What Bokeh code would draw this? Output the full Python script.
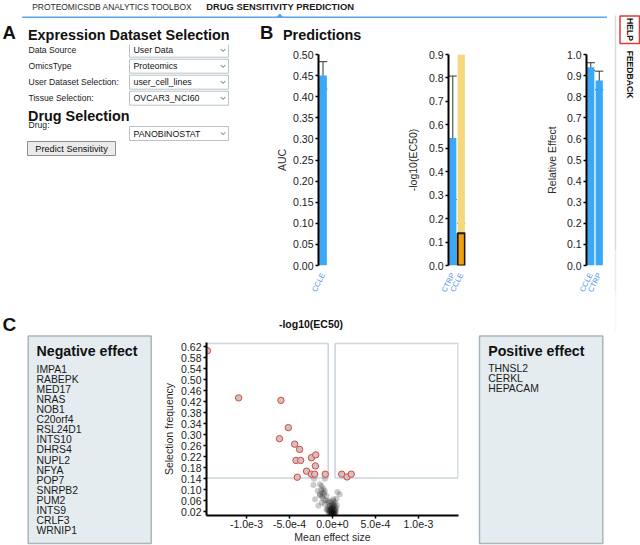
from math import pi
from bokeh.plotting import figure
from bokeh.layouts import row, column
from bokeh.models import (Range1d, FactorRange, ColumnDataSource, Whisker, TeeHead,
                          FixedTicker, NumeralTickFormatter, CustomJSTickFormatter)
from bokeh.core.properties import value
from bokeh.embed import file_html
from bokeh.resources import INLINE

# ---------------- data ----------------
header_items = ["PROTEOMICSDB ANALYTICS TOOLBOX", "DRUG SENSITIVITY PREDICTION"]
form_labels = ["Data Source", "OmicsType", "User Dataset Selection:", "Tissue Selection:"]
form_values = ["User Data", "Proteomics", "user_cell_lines", "OVCAR3_NCI60"]
drug_label = "Drug:"
drug_value = "PANOBINOSTAT"
button_label = "Predict Sensitivity"

auc_sources = ["CCLE"]
auc_values = [0.450]
auc_lower = [0.418]
auc_upper = [0.483]
auc_ticks = [0.00, 0.05, 0.10, 0.15, 0.20, 0.25, 0.30, 0.35, 0.40, 0.45, 0.50]

ec50_sources = ["CTRP", "CCLE"]
ec50_values = [0.544, 0.138]
ec50_lower = [0.281, 0.083]
ec50_upper = [0.808, 0.180]
ec50_highlight = "CCLE"
ec50_ticks = [0.0, 0.1, 0.2, 0.3, 0.4, 0.5, 0.6, 0.7, 0.8, 0.9]

re_sources = ["CCLE", "CTRP"]
re_values = [0.940, 0.877]
re_lower = [0.924, 0.833]
re_upper = [0.961, 0.921]
re_ticks = [0.0, 0.1, 0.2, 0.3, 0.4, 0.5, 0.6, 0.7, 0.8, 0.9, 1.0]

neg_genes = ["IMPA1", "RABEPK", "MED17", "NRAS", "NOB1", "C20orf4", "RSL24D1", "INTS10",
             "DHRS4", "NUPL2", "NFYA", "POP7", "SNRPB2", "PUM2", "INTS9", "CRLF3", "WRNIP1"]
pos_genes = ["THNSL2", "CERKL", "HEPACAM"]

# selected genes (red circles)
sel_effect = [-1.455e-3, -1.092e-3, -6.00e-4, -5.14e-4, -6.17e-4, -4.40e-4, -3.83e-4,
              -4.25e-4, -3.71e-4, -2.45e-4, -1.95e-4, -1.99e-4, -3.02e-4, -2.45e-4,
              -2.07e-4, -4.10e-4, -0.84e-4, 1.07e-4, 1.69e-4, 2.18e-4]
sel_freq = [0.605, 0.434, 0.425, 0.326, 0.286, 0.266, 0.247, 0.207, 0.207, 0.217, 0.227,
            0.187, 0.168, 0.157, 0.157, 0.146, 0.157, 0.157, 0.147, 0.157]
# non-selected genes (grey dots)
other_effect = [-2.15e-4, -0.89e-4, -2.22e-4, -1.46e-4, -1.26e-4, -1.07e-4, -1.72e-4, -0.89e-4,
                -2.03e-4, -1.46e-4, -0.69e-4, -1.07e-4, 0.57e-4, 0.84e-4, 0.46e-4, -0.49e-4,
                0.08e-4, -1.64e-4, -0.89e-4, -0.31e-4, -0.69e-4, -0.11e-4, -1.26e-4, -1.46e-4,
                -1.30e-4, -1.15e-4, -0.95e-4, -1.20e-4, -0.80e-4, -0.55e-4, 0.30e-4, 0.50e-4,
                0.25e-4, -0.50e-4, -0.40e-4, -0.30e-4, -0.20e-4, -0.15e-4, -0.10e-4, -0.05e-4,
                0.0, 0.0, 0.05e-4, 0.10e-4, 0.15e-4, 0.20e-4, 0.25e-4, 0.30e-4, 0.35e-4,
                0.40e-4, -0.35e-4, -0.25e-4, -0.45e-4, 0.10e-4, -0.10e-4, 0.20e-4, -0.20e-4,
                0.05e-4, -0.05e-4, 0.15e-4, -0.60e-4, 0.45e-4, 0.30e-4, -0.30e-4, 0.0,
                0.12e-4, -0.25e-4]
other_freq = [0.140, 0.140, 0.118, 0.120, 0.114, 0.104, 0.096, 0.096, 0.066, 0.084, 0.078,
              0.068, 0.092, 0.084, 0.068, 0.060, 0.066, 0.042, 0.048, 0.042, 0.030, 0.030,
              0.054, 0.080, 0.100, 0.090, 0.086, 0.076, 0.062, 0.054, 0.054, 0.044, 0.040,
              0.036, 0.028, 0.022, 0.034, 0.018, 0.026, 0.014, 0.022, 0.032, 0.012, 0.018,
              0.028, 0.014, 0.022, 0.030, 0.016, 0.024, 0.012, 0.016, 0.020, 0.010, 0.010,
              0.010, 0.012, 0.038, 0.044, 0.046, 0.026, 0.034, 0.012, 0.040, 0.050, 0.060,
              0.058]
freq_threshold = 0.143
effect_neg_cut = -5e-5
effect_pos_cut = 3e-5
sc_y_ticks = [0.02, 0.06, 0.10, 0.14, 0.18, 0.22, 0.26, 0.30, 0.34, 0.38, 0.42, 0.46,
              0.50, 0.54, 0.58, 0.62]
sc_x_ticks = [-1.0e-3, -5.0e-4, 0.0, 5.0e-4, 1.0e-3]

# ---------------- style ----------------
S = 1.0
FONT = "Liberation Sans"
BLUE = "#3AA8F6"
ORANGE = "#F29E0C"
YELLOW = "#F6D77C"
CAT_BLUE = "#4D90E8"
LINE_BLUE = "#5BA4EE"
BOX_FILL = "#E4ECEF"
BOX_LINE = "#A7B6BC"
DARK = "#1A1A1A"


def P(v):
    return int(round(v * S))


def fs(v):
    return f"{v * S:.2f}px"


def deco(x0, x1, y0, y1):
    p = figure(width=P(x1) - P(x0), height=P(y1) - P(y0),
               x_range=Range1d(P(x0) / S, P(x1) / S), y_range=Range1d(P(y1) / S, P(y0) / S),
               x_axis_type=None, y_axis_type=None, output_backend="svg",
               toolbar_location=None, min_border=0, outline_line_color=None)
    p.frame_align = False
    p.title.visible = False
    p.grid.visible = False
    return p


def T(p, xs, ys, texts, size, bold=False, color=DARK, align="left", angle=0.0):
    p.text(x=xs, y=ys, text=texts, text_font=value(FONT), text_font_size=value(fs(size)),
           text_font_style="bold" if bold else "normal", text_color=color,
           text_align=align, text_baseline="middle", angle=angle)


def style_axis(ax, label_standoff):
    ax.axis_line_width = 2 * S
    ax.axis_line_color = "black"
    ax.major_tick_line_color = "black"
    ax.major_tick_line_width = 1.5 * S
    ax.major_tick_out = 3
    ax.major_tick_in = 0
    ax.minor_tick_line_color = None
    ax.major_label_text_font = FONT
    ax.major_label_text_font_size = fs(10.5)
    ax.major_label_text_color = DARK
    ax.major_label_standoff = 2
    ax.axis_label_text_font = FONT
    ax.axis_label_text_font_size = fs(10.5)
    ax.axis_label_text_font_style = "normal"
    ax.axis_label_text_color = "#2A2A2A"
    ax.axis_label_standoff = label_standoff


def data_fig(fig_box, frame_box, x_range, y_range):
    fx0, fx1, fy0, fy1 = fig_box
    ax0, ax1, ay0, ay1 = frame_box
    p = figure(width=P(fx1) - P(fx0), height=P(fy1) - P(fy0), x_range=x_range, y_range=y_range,
               min_border_left=P(ax0) - P(fx0), min_border_right=P(fx1) - P(ax1),
               min_border_top=P(ay0) - P(fy0), min_border_bottom=P(fy1) - P(ay1),
               output_backend="svg", toolbar_location=None, outline_line_color=None)
    p.frame_align = False
    p.title.visible = False
    p.grid.visible = False
    return p


def bar_fig(fig_box, frame_box, factors, y_end, ticks, fmt, ylabel, standoff,
            values, lower, upper, colors, cap, highlight=None):
    p = data_fig(fig_box, frame_box, FactorRange(factors=factors), Range1d(0, y_end))
    yax = p.yaxis[0]
    yax.ticker = FixedTicker(ticks=ticks, minor_ticks=[])
    yax.formatter = NumeralTickFormatter(format=fmt)
    yax.axis_label = ylabel
    style_axis(yax, standoff)
    xax = p.xaxis[0]
    xax.axis_line_color = None
    xax.major_tick_line_color = None
    xax.minor_tick_line_color = None
    xax.major_label_orientation = 1.1
    xax.major_label_text_font = FONT
    xax.major_label_text_font_size = fs(7.5)
    xax.major_label_text_color = CAT_BLUE
    xax.major_label_standoff = 2
    if highlight is not None:
        p.vbar(x=[highlight], top=[y_end], width=0.85, color=YELLOW, line_color=None)
    edge = ["#1A1A1A" if f == highlight else None for f in factors]
    src = ColumnDataSource(dict(src=factors, val=values, lo=lower, hi=upper,
                                col=colors, edge=edge))
    p.vbar(x="src", top="val", width=0.85, fill_color="col", line_color="edge",
           line_width=2 * S, source=src)
    p.add_layout(Whisker(source=src, base="src", upper="hi", lower="lo",
                         line_color="#333333", line_width=1,
                         upper_head=TeeHead(size=cap * S, line_color="#333333", line_width=1),
                         lower_head=TeeHead(size=cap * S, line_color="#333333", line_width=1)))
    return p


# ---------------- header ----------------
hdr = deco(0, 607, 0, 20)
T(hdr, [31.7], [6.3], [header_items[0]], 8.45, color="#2A2A2A")
T(hdr, [205.7], [6.3], [header_items[1]], 9.4, bold=True)
hdr.line([21.7, 607], [16.8, 16.8], color=LINE_BLUE, line_width=1.6 * S)
hdr.patch([276.3, 279.3, 282.3], [16.8, 13.4, 16.8], color=LINE_BLUE)

# ---------------- title strip ----------------
tit = deco(0, 607, 20, 44)
T(tit, [2, 259.5], [31.8, 31.8], ["A", "B"], 18.5, bold=True, color="#111111")
T(tit, [27.5, 282.5], [34.2, 34.2], ["Expression Dataset Selection", "Predictions"], 14.4,
  bold=True, color="#111111")

# ---------------- panel A body ----------------
pa = deco(0, 258, 44, 300)
n = len(form_labels)
box_tops = [42.7 + 16 * i for i in range(n)] + [126.0]
centers = [t + 7 for t in box_tops]
pa.quad(left=[129] * (n + 1), right=[228] * (n + 1), top=box_tops,
        bottom=[t + 14 for t in box_tops], fill_color="white", line_color="#B9C3C9",
        line_width=1)
T(pa, [28] * n, [c - 0.3 for c in centers[:n]], form_labels, 8.6)
T(pa, [28], [124.5], [drug_label], 8.6)
T(pa, [133] * (n + 1), centers, form_values + [drug_value], 8.8, color="#111111")
pa.multi_line(xs=[[220.3, 222.6, 224.9]] * (n + 1),
              ys=[[c - 1.2, c + 1.2, c - 1.2] for c in centers],
              line_color="#8FA6B5", line_width=1.2)
pa.quad(left=[27], right=[115], top=[141], bottom=[155], fill_color="#EBEBEB",
        line_color="#8E8E8E", line_width=1)
T(pa, [71], [148.2], [button_label], 9.2, align="center", color="#111111")
T(pa, [27.5], [115.8], ["Drug Selection"], 14.4, bold=True, color="#111111")

# ---------------- bar charts ----------------
auc = bar_fig((258, 380, 44, 300), (317.7, 326.7, 54, 265), auc_sources, 0.5, auc_ticks,
              "0.00", "AUC", 2, auc_values, auc_lower, auc_upper, [BLUE], 9)
ec50_colors = [ORANGE if s_ == ec50_highlight else BLUE for s_ in ec50_sources]
ec50 = bar_fig((380, 520, 44, 300), (448, 465, 54, 265), ec50_sources, 0.9, ec50_ticks,
               "0.0", "-log10(EC50)", 7, ec50_values, ec50_lower, ec50_upper, ec50_colors, 8,
               highlight=ec50_highlight)
re = bar_fig((520, 607, 44, 300), (586, 603, 54, 265), re_sources, 1.0, re_ticks,
             "0.0", "Relative Effect", 6, re_values, re_lower, re_upper, [BLUE, BLUE], 8.5)

# ---------------- C strip ----------------
cst = deco(0, 607, 300, 333)
T(cst, [2], [323.5], ["C"], 19, bold=True, color="#111111")
T(cst, [310.5], [323.2], ["-log10(EC50)"], 10.5, bold=True, align="center", color="#111111")

# ---------------- negative / positive boxes ----------------
neg = deco(0, 160, 333, 545)
neg.quad(left=[27.7], right=[150.7], top=[335.5], bottom=[543], fill_color=BOX_FILL,
         line_color=BOX_LINE, line_width=1.5 * S)
T(neg, [36], [350], ["Negative effect"], 14.2, bold=True, color="#111111")
T(neg, [36] * len(neg_genes), [369 + 10.06 * i for i in range(len(neg_genes))], neg_genes,
  10.4)

pos = deco(470, 607, 333, 545)
pos.quad(left=[479], right=[602.3], top=[335.5], bottom=[543], fill_color=BOX_FILL,
         line_color=BOX_LINE, line_width=1.5 * S)
T(pos, [487.7], [350], ["Positive effect"], 14.2, bold=True, color="#111111")
T(pos, [487.7] * len(pos_genes), [368.3 + 10 * i for i in range(len(pos_genes))], pos_genes,
  10.4)

# ---------------- volcano scatter ----------------
xr = Range1d(-1.466e-3, 1.466e-3)
yr = Range1d(0.007, 0.635)
sc = data_fig((160, 470, 333, 545), (203.5, 457.7, 341.7, 516.5), xr, yr)
sc.quad(left=[xr.start, effect_pos_cut], right=[effect_neg_cut, 1.46e-3],
        bottom=[freq_threshold] * 2, top=[0.632] * 2, fill_color=None,
        line_color="#CCD6DB", line_width=1.6 * S)
sc.scatter(other_effect, other_freq, size=6 * S, fill_color="black", fill_alpha=0.2,
           line_color=None)
sc.scatter(sel_effect, sel_freq, size=6.4 * S, fill_color="#C6C6C6", line_color="#E8403A",
           line_width=1)
sxa = sc.xaxis[0]
sxa.ticker = FixedTicker(ticks=sc_x_ticks, minor_ticks=[])
sxa.formatter = CustomJSTickFormatter(code="return tick.toExponential(1);")
sxa.axis_label = "Mean effect size"
style_axis(sxa, 0)
sxa.major_label_standoff = 1
sya = sc.yaxis[0]
sya.ticker = FixedTicker(ticks=sc_y_ticks, minor_ticks=[])
sya.formatter = NumeralTickFormatter(format="0.00")
sya.axis_label = "Selection frequency"
style_axis(sya, 3)

# ---------------- sidebar ----------------
side = deco(607, 640, 0, 545)
side.segment(x0=[615] * 3, y0=[15, 250, 290], x1=[615] * 3, y1=[250, 290, 330],
             line_color="#DADADA", line_alpha=[1.0, 0.6, 0.25], line_width=1.5 * S)
side.quad(left=[619.5], right=[639], top=[15.5], bottom=[43], fill_color=None,
          line_color="#E53935", line_width=1.5 * S)
T(side, [629.3], [29], ["HELP"], 8.6, bold=True, color="#111111", align="center",
  angle=-pi / 2)
T(side, [629.3], [74], ["FEEDBACK"], 8.6, bold=True, color="#111111", align="center",
  angle=-pi / 2)

# ---------------- layout ----------------
mid = row(pa, auc, ec50, re)
bottom = row(neg, sc, pos)
main = column(hdr, tit, mid, cst, bottom)
page = row(main, side)

open("out.html", "w").write(file_html(page, INLINE, "Drug Sensitivity Prediction"))
